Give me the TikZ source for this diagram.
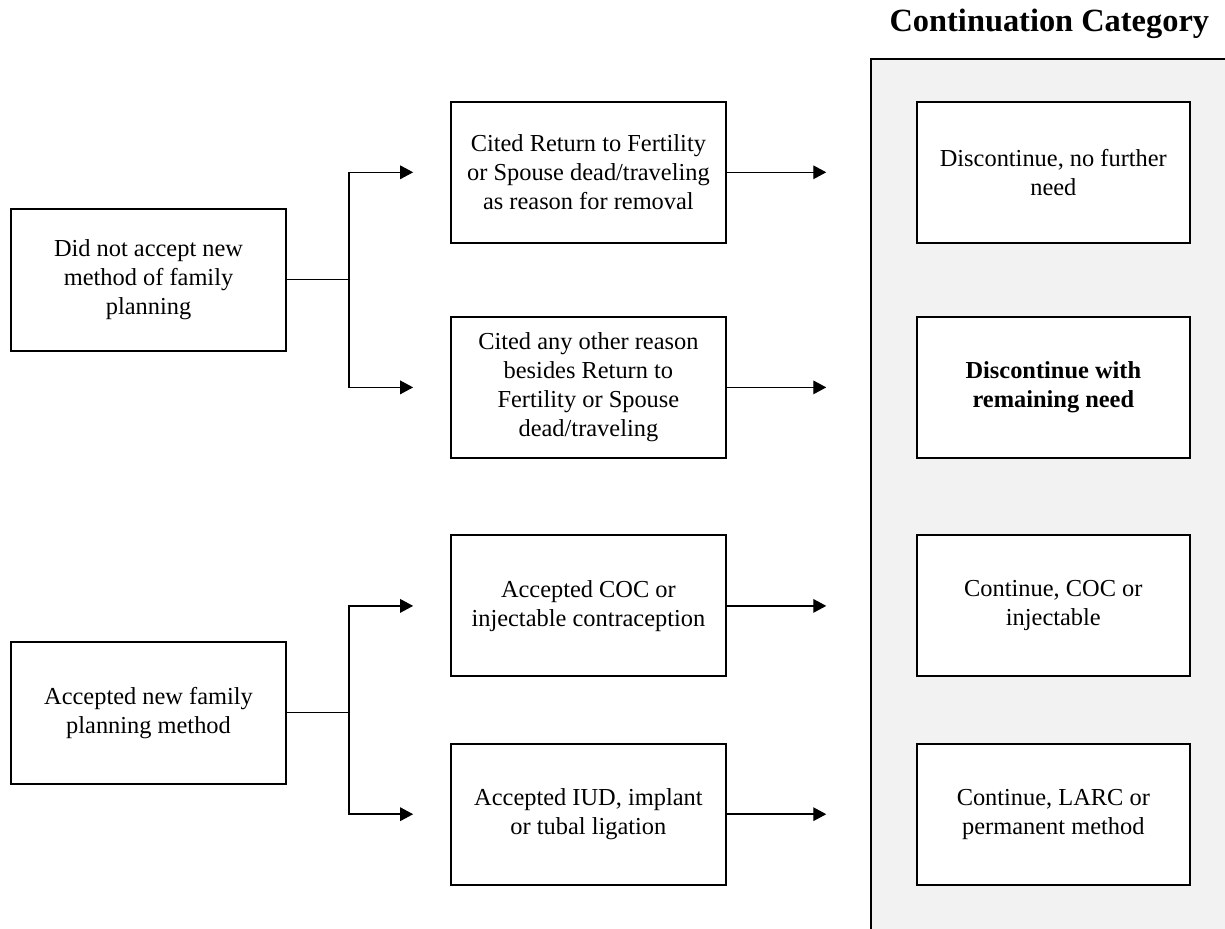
\documentclass[tikz,border=0pt]{standalone}
\usepackage{fontspec}
\setmainfont{Liberation Serif}
\usepackage{xcolor}
\usepackage{tikz}
\usetikzlibrary{arrows.meta}
\usetikzlibrary{positioning}
\definecolor{panelgrey}{HTML}{F2F2F2}
\tikzset{box/.style ={draw, line width=1pt, fill=white, minimum width=4.83cm, minimum height=2.48cm, align=center, font=\fontsize{12.2}{14.5}\selectfont}}
\tikzset{flow/.style ={line width=0.7pt, -{Triangle[length=6.5pt,width=6.8pt]}}}
\tikzset{link/.style ={line width=0.5pt}}

\begin{document}
\begin{tikzpicture}
{
\path[use as bounding box, clip] (0,0) rectangle (21.527,16.308);
% grey panel of the categories
\fill[panelgrey] (15.31,-1) rectangle (23,15.27);
\draw[line width=1pt] (15.31,-1) -- (15.31,15.27) -- (23,15.27);
\node[font=\fontsize{16.2}{19}\selectfont\bfseries, anchor=base] (title) at (18.44,15.75) {Continuation Category};

\node[box, minimum height=2.5cm] (noaccept) at (2.61,11.39) {Did not accept new\\method of family\\planning};
\node[box, minimum height=2.5cm] (accept) at (2.61,3.78) {Accepted new family\\planning method};

\node[box] (fertility) at (10.34,13.28) {Cited Return to Fertility\\or Spouse dead/traveling\\as reason for removal};
\node[box] (otherreason) at (10.34,9.50) {Cited any other reason\\besides Return to\\Fertility or Spouse\\dead/traveling};
\node[box] (coc) at (10.34,5.66) {Accepted COC or\\injectable contraception};
\node[box] (iud) at (10.34,2.00) {Accepted IUD, implant\\or tubal ligation};

\node[box, minimum width=4.80cm] (nofurther) at (18.51,13.28) {Discontinue, no further\\need};
\node[box, minimum width=4.80cm, font=\fontsize{12.2}{14.5}\selectfont\bfseries] (remaining) at (18.51,9.50) {Discontinue with\\remaining need};
\node[box, minimum width=4.80cm] (contcoc) at (18.51,5.66) {Continue, COC or\\injectable};
\node[box, minimum width=4.80cm] (contlarc) at (18.51,2.00) {Continue, LARC or\\permanent method};

% split points and arrow ends
\coordinate (splitno) at (6.13,11.39);
\coordinate (splityes) at (6.13,3.78);
\coordinate (tipa) at (7.26,13.28);
\coordinate (tipb) at (7.26,9.50);
\coordinate (tipc) at (7.26,5.66);
\coordinate (tipd) at (7.26,2.00);
\coordinate (enda) at (14.52,13.28);
\coordinate (endb) at (14.52,9.50);
\coordinate (endc) at (14.52,5.66);
\coordinate (endd) at (14.52,2.00);

\draw[link] (noaccept) -- (splitno);
\draw[link] (accept) -- (splityes);
\draw[flow] (splitno) |- (tipa);
\draw[flow] (splitno) |- (tipb);
\draw[flow] (splityes) |- (tipc);
\draw[flow] (splityes) |- (tipd);

\draw[flow] (fertility) -- (enda);
\draw[flow] (otherreason) -- (endb);
\draw[flow] (coc) -- (endc);
\draw[flow] (iud) -- (endd);
}
\end{tikzpicture}
\end{document}
